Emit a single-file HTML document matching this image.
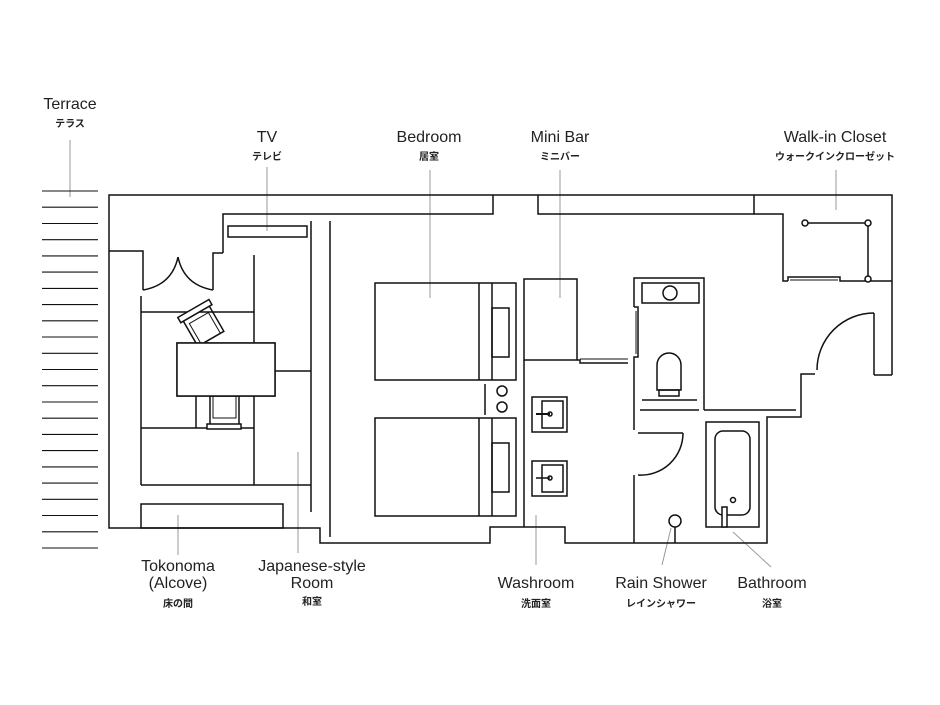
<!DOCTYPE html>
<html><head><meta charset="utf-8"><style>
html,body{margin:0;padding:0;background:#fff}
svg{display:block}
.en{font-family:"Liberation Sans",sans-serif;font-size:16px;fill:#222}
.jp{font-family:"Liberation Sans","Noto Sans CJK JP",sans-serif;font-size:10px;fill:#222;font-weight:bold}
</style></head><body>
<svg width="940" height="705" viewBox="0 0 940 705" xmlns="http://www.w3.org/2000/svg">
<g fill="none" stroke="#999" stroke-width="1">
<line x1="70" y1="140" x2="70" y2="197"/>
<line x1="267" y1="167" x2="267" y2="231"/>
<line x1="430" y1="170" x2="430" y2="298"/>
<line x1="560" y1="170" x2="560" y2="298"/>
<line x1="836" y1="170" x2="836" y2="210"/>
<line x1="178" y1="515" x2="178" y2="555"/>
<line x1="298" y1="452" x2="298" y2="553"/>
<line x1="536" y1="515" x2="536" y2="565"/>
<line x1="662" y1="565" x2="671" y2="528"/>
<line x1="771" y1="567" x2="733" y2="532"/>
</g>
<g stroke="#111" stroke-width="1.1">
<line x1="42" y1="191" x2="98" y2="191"/><line x1="42" y1="207.2" x2="98" y2="207.2"/><line x1="42" y1="223.5" x2="98" y2="223.5"/><line x1="42" y1="239.7" x2="98" y2="239.7"/><line x1="42" y1="255.9" x2="98" y2="255.9"/><line x1="42" y1="272.1" x2="98" y2="272.1"/><line x1="42" y1="288.4" x2="98" y2="288.4"/><line x1="42" y1="304.6" x2="98" y2="304.6"/><line x1="42" y1="320.8" x2="98" y2="320.8"/><line x1="42" y1="337" x2="98" y2="337"/><line x1="42" y1="353.3" x2="98" y2="353.3"/><line x1="42" y1="369.5" x2="98" y2="369.5"/><line x1="42" y1="385.7" x2="98" y2="385.7"/><line x1="42" y1="402" x2="98" y2="402"/><line x1="42" y1="418.2" x2="98" y2="418.2"/><line x1="42" y1="434.4" x2="98" y2="434.4"/><line x1="42" y1="450.6" x2="98" y2="450.6"/><line x1="42" y1="466.9" x2="98" y2="466.9"/><line x1="42" y1="483.1" x2="98" y2="483.1"/><line x1="42" y1="499.3" x2="98" y2="499.3"/><line x1="42" y1="515.5" x2="98" y2="515.5"/><line x1="42" y1="531.8" x2="98" y2="531.8"/><line x1="42" y1="548" x2="98" y2="548"/>
</g>
<g fill="none" stroke="#111" stroke-width="1.5">
<!-- outer wall -->
<polyline points="892,375 892,195 109,195 109,528 320,528 320,543 490,543 490,527 565,527 565,543 767,543 767,417 801,417 801,374 815,374"/>
<polyline points="874,375 892,375"/>
<line x1="874" y1="313" x2="874" y2="375"/>
<path d="M874,313 A57,57 0 0 0 817,370"/>
<polyline points="704,410 796,410"/>
<!-- interior top walls -->
<polyline points="223,253 223,214 493,214 493,195"/>
<polyline points="538,195 538,214 754,214 754,195"/>
<polyline points="754,214 783,214 783,281 788,281"/>
<polyline points="788,281 788,277 840,277 840,281 892,281"/>
<line x1="790" y1="280" x2="838" y2="280" stroke-width="1"/>
<!-- closet rail -->
<line x1="805" y1="223" x2="868" y2="223"/>
<line x1="868" y1="223" x2="868" y2="279"/>
<circle cx="805" cy="223" r="3" fill="#fff"/><circle cx="868" cy="223" r="3" fill="#fff"/><circle cx="868" cy="279" r="3" fill="#fff"/>
<!-- entrance doors -->
<polyline points="109,251 143,251 143,290"/>
<polyline points="223,253 213,253 213,290"/>
<path d="M143,290 Q172,285 178,257"/>
<path d="M213,290 Q184,285 178,257"/>
<!-- TV -->
<rect x="228" y="226" width="79" height="11"/>
<line x1="311" y1="221" x2="311" y2="512"/>
<line x1="330" y1="221" x2="330" y2="537"/>
<!-- japanese room -->
<line x1="141" y1="296" x2="141" y2="485"/>
<line x1="141" y1="312" x2="254" y2="312"/>
<line x1="254" y1="255" x2="254" y2="485"/>
<line x1="141" y1="485" x2="311" y2="485"/>
<line x1="141" y1="428" x2="254" y2="428"/>
<line x1="196" y1="396" x2="196" y2="428"/>
<rect x="177" y="343" width="98" height="53" fill="#fff"/>
<line x1="275" y1="371" x2="311" y2="371"/>
<rect x="210" y="396" width="29" height="29"/>
<rect x="213" y="396" width="23" height="22" stroke-width="1"/>
<rect x="207" y="424" width="34" height="5" fill="#fff"/>
<g transform="rotate(-30 200 322)">
<rect x="186" y="312" width="30" height="30"/>
<rect x="190" y="318" width="22" height="24" stroke-width="1"/>
<rect x="183" y="307" width="36" height="6" fill="#fff"/>
</g>
<rect x="177" y="343" width="98" height="53" fill="#fff"/>
<rect x="141" y="504" width="142" height="24"/>
<!-- beds -->
<rect x="375" y="283" width="141" height="97"/>
<line x1="479" y1="283" x2="479" y2="380"/><line x1="492" y1="283" x2="492" y2="380"/>
<rect x="492" y="308" width="17" height="49"/>
<rect x="375" y="418" width="141" height="98"/>
<line x1="479" y1="418" x2="479" y2="516"/><line x1="492" y1="418" x2="492" y2="516"/>
<rect x="492" y="443" width="17" height="49"/>
<line x1="485" y1="384" x2="485" y2="415"/>
<circle cx="502" cy="391" r="5"/><circle cx="502" cy="407" r="5"/>
<!-- minibar / washroom -->
<rect x="524" y="279" width="53" height="81"/>
<line x1="524" y1="360" x2="524" y2="527"/>
<polyline points="577,360 580,360 580,363 628,363"/>
<line x1="580" y1="359" x2="628" y2="359" stroke-width="1"/>
<rect x="532" y="397" width="35" height="35"/><rect x="542" y="401" width="21" height="27"/>
<line x1="536" y1="414" x2="550" y2="414" stroke-width="2"/><circle cx="550" cy="414" r="2"/>
<rect x="532" y="461" width="35" height="35"/><rect x="542" y="465" width="21" height="27"/>
<line x1="536" y1="478" x2="550" y2="478"/><circle cx="550" cy="478" r="2"/>
<!-- toilet room -->
<polyline points="634,307 634,278 704,278 704,410"/>
<polyline points="634,307 638,307 638,357 634,357 634,430"/>
<line x1="636" y1="311" x2="636" y2="354" stroke-width="1"/>
<line x1="634" y1="475" x2="634" y2="543"/>
<rect x="642" y="283" width="57" height="20"/>
<circle cx="670" cy="293" r="7"/>
<path d="M657,390 L657,365 A12,12 0 0 1 681,365 L681,390 Z"/>
<rect x="659" y="390" width="20" height="6"/>
<line x1="642" y1="400" x2="697" y2="400"/>
<line x1="640" y1="410" x2="699" y2="410"/>
<line x1="638" y1="433" x2="683" y2="433"/>
<path d="M683,433 A42,42 0 0 1 638,475"/>
<circle cx="675" cy="521" r="6"/>
<line x1="675" y1="527" x2="675" y2="543"/>
<!-- bath -->
<rect x="706" y="422" width="53" height="105"/>
<rect x="715" y="431" width="35" height="84" rx="8"/>
<rect x="722" y="507" width="5" height="20" fill="#fff"/>
<circle cx="733" cy="500" r="2.5"/>
</g>
<g text-anchor="middle">
<text class="en" x="70" y="109">Terrace</text><text class="jp" x="70" y="127">テラス</text>
<text class="en" x="267" y="142">TV</text><text class="jp" x="267" y="160">テレビ</text>
<text class="en" x="429" y="142">Bedroom</text><text class="jp" x="429" y="160">居室</text>
<text class="en" x="560" y="142">Mini Bar</text><text class="jp" x="560" y="160">ミニバー</text>
<text class="en" x="835" y="142">Walk-in Closet</text><text class="jp" x="835" y="160">ウォークインクローゼット</text>
<text class="en" x="178" y="571">Tokonoma</text><text class="en" x="178" y="588">(Alcove)</text><text class="jp" x="178" y="607">床の間</text>
<text class="en" x="312" y="571">Japanese-style</text><text class="en" x="312" y="588">Room</text><text class="jp" x="312" y="605">和室</text>
<text class="en" x="536" y="588">Washroom</text><text class="jp" x="536" y="607">洗面室</text>
<text class="en" x="661" y="588">Rain Shower</text><text class="jp" x="661" y="607">レインシャワー</text>
<text class="en" x="772" y="588">Bathroom</text><text class="jp" x="772" y="607">浴室</text>
</g>
</svg>
</body></html>
